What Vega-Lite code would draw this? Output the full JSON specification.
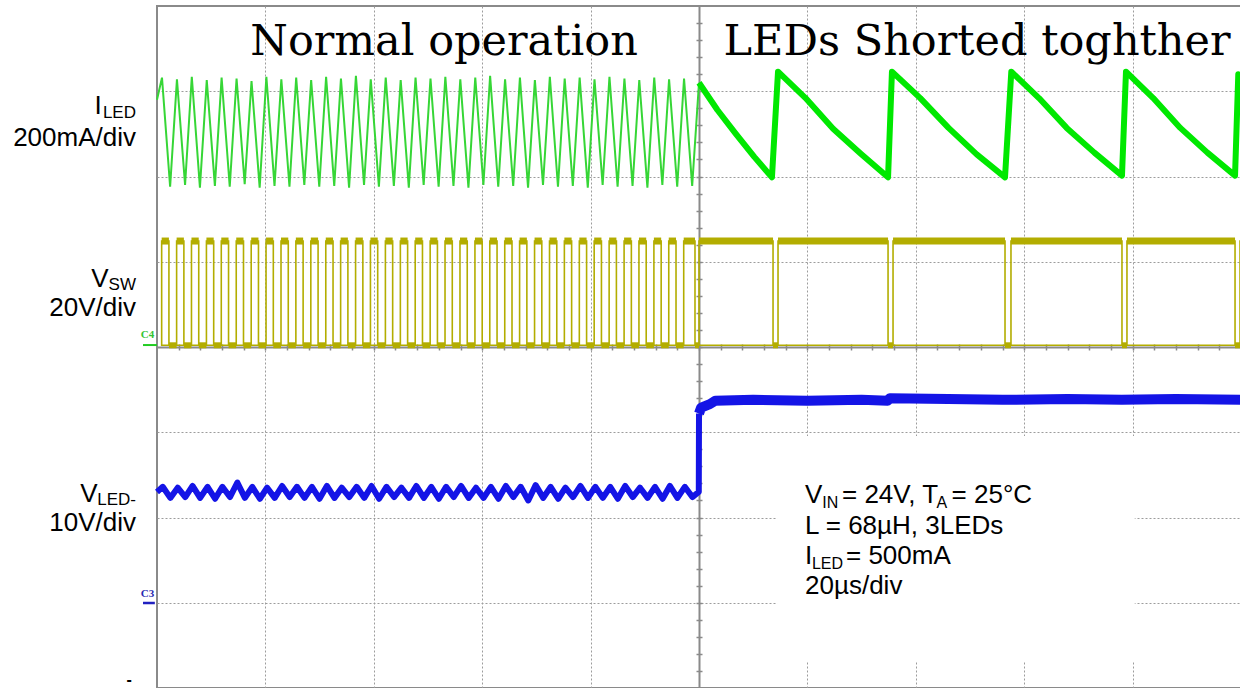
{
  "$schema": "https://vega.github.io/schema/vega-lite/v6.json",
  "width": 1084,
  "height": 682,
  "autosize": {"type": "none"},
  "padding": {"left": 157, "top": 6, "right": 0, "bottom": 0},
  "background": "white",
  "config": {"view": {"stroke": "#8a8a8a", "strokeWidth": 2}},
  "datasets": {
    "vsw": [
      {"a":0.043,"b":0.11,"c":0.181},{"a":0.181,"b":0.248,"c":0.318},{"a":0.318,"b":0.385,"c":0.456},
      {"a":0.456,"b":0.523,"c":0.593},{"a":0.593,"b":0.66,"c":0.731},{"a":0.731,"b":0.798,"c":0.869},
      {"a":0.869,"b":0.936,"c":1.006},{"a":1.006,"b":1.073,"c":1.144},{"a":1.144,"b":1.211,"c":1.281},
      {"a":1.281,"b":1.348,"c":1.419},{"a":1.419,"b":1.486,"c":1.557},{"a":1.557,"b":1.624,"c":1.694},
      {"a":1.694,"b":1.761,"c":1.832},{"a":1.832,"b":1.899,"c":1.969},{"a":1.969,"b":2.036,"c":2.107},
      {"a":2.107,"b":2.174,"c":2.245},{"a":2.245,"b":2.312,"c":2.382},{"a":2.382,"b":2.449,"c":2.52},
      {"a":2.52,"b":2.587,"c":2.657},{"a":2.657,"b":2.724,"c":2.795},{"a":2.795,"b":2.862,"c":2.933},
      {"a":2.933,"b":3.0,"c":3.07},{"a":3.07,"b":3.137,"c":3.208},{"a":3.208,"b":3.275,"c":3.345},
      {"a":3.345,"b":3.412,"c":3.483},{"a":3.483,"b":3.55,"c":3.621},{"a":3.621,"b":3.688,"c":3.758},
      {"a":3.758,"b":3.825,"c":3.896},{"a":3.896,"b":3.963,"c":4.033},{"a":4.033,"b":4.1,"c":4.171},
      {"a":4.171,"b":4.238,"c":4.309},{"a":4.309,"b":4.376,"c":4.446},{"a":4.446,"b":4.513,"c":4.584},
      {"a":4.584,"b":4.651,"c":4.721},{"a":4.721,"b":4.788,"c":4.859},{"a":4.859,"b":4.963,"c":5.0},
      {"a":5.0,"b":5.683,"c":5.729},{"a":5.729,"b":6.744,"c":6.79},{"a":6.79,"b":7.823,"c":7.878},
      {"a":7.878,"b":8.902,"c":8.948},{"a":8.948,"b":9.945,"c":9.991},{"a":9.991,"b":10.0,"c":10.0}
    ],
    "iled_l": [
      {"t":0.0,"v":6.9},
      {"t":0.046,"v":7.16},{"t":0.121,"v":5.88},{"t":0.184,"v":7.14},{"t":0.259,"v":5.9},
      {"t":0.321,"v":7.17},{"t":0.396,"v":5.87},{"t":0.459,"v":7.13},{"t":0.534,"v":5.89},
      {"t":0.596,"v":7.16},{"t":0.671,"v":5.88},{"t":0.734,"v":7.15},{"t":0.809,"v":5.91},
      {"t":0.872,"v":7.12},{"t":0.947,"v":5.87},{"t":1.009,"v":7.17},{"t":1.084,"v":5.89},
      {"t":1.147,"v":7.14},{"t":1.222,"v":5.88},{"t":1.284,"v":7.16},{"t":1.359,"v":5.9},
      {"t":1.422,"v":7.13},{"t":1.497,"v":5.88},{"t":1.56,"v":7.17},{"t":1.635,"v":5.89},
      {"t":1.697,"v":7.15},{"t":1.772,"v":5.87},{"t":1.835,"v":7.18},{"t":1.91,"v":5.9},
      {"t":1.972,"v":7.14},{"t":2.047,"v":5.88},{"t":2.11,"v":7.16},{"t":2.185,"v":5.89},
      {"t":2.248,"v":7.13},{"t":2.323,"v":5.87},{"t":2.385,"v":7.16},{"t":2.46,"v":5.9},
      {"t":2.523,"v":7.15},{"t":2.598,"v":5.88},{"t":2.66,"v":7.17},{"t":2.735,"v":5.89},
      {"t":2.798,"v":7.14},{"t":2.873,"v":5.87},{"t":2.936,"v":7.16},{"t":3.011,"v":5.9},
      {"t":3.073,"v":7.18},{"t":3.148,"v":5.88},{"t":3.211,"v":7.14},{"t":3.286,"v":5.89},
      {"t":3.348,"v":7.16},{"t":3.423,"v":5.87},{"t":3.486,"v":7.13},{"t":3.561,"v":5.9},
      {"t":3.624,"v":7.17},{"t":3.699,"v":5.88},{"t":3.761,"v":7.15},{"t":3.836,"v":5.89},
      {"t":3.899,"v":7.16},{"t":3.974,"v":5.87},{"t":4.036,"v":7.14},{"t":4.111,"v":5.9},
      {"t":4.174,"v":7.17},{"t":4.249,"v":5.88},{"t":4.312,"v":7.15},{"t":4.387,"v":5.89},
      {"t":4.449,"v":7.13},{"t":4.524,"v":5.87},{"t":4.587,"v":7.16},{"t":4.662,"v":5.9},
      {"t":4.724,"v":7.14},{"t":4.799,"v":5.88},{"t":4.862,"v":7.15},{"t":4.937,"v":5.89},
      {"t":5.0,"v":7.1}
    ],
    "iled_r": [
      {"t":5.0,"v":7.1},{"t":5.17,"v":6.78},{"t":5.34,"v":6.5},{"t":5.51,"v":6.23},{"t":5.673,"v":5.99},
      {"t":5.729,"v":7.23},{"t":5.983,"v":6.92},{"t":6.237,"v":6.56},{"t":6.49,"v":6.27},{"t":6.744,"v":5.99},
      {"t":6.78,"v":7.23},{"t":7.041,"v":6.92},{"t":7.302,"v":6.57},{"t":7.562,"v":6.26},{"t":7.823,"v":5.99},
      {"t":7.881,"v":7.23},{"t":8.136,"v":6.92},{"t":8.392,"v":6.57},{"t":8.647,"v":6.28},{"t":8.902,"v":6.01},
      {"t":8.939,"v":7.23},{"t":9.19,"v":6.92},{"t":9.44,"v":6.57},{"t":9.69,"v":6.28},{"t":9.945,"v":6.01},
      {"t":9.975,"v":7.2},{"t":10.0,"v":7.17}
    ],
    "vled_l": [
      {"t":0.0,"v":2.3},
      {"t":0.053,"v":2.36},{"t":0.123,"v":2.23},{"t":0.191,"v":2.35},{"t":0.261,"v":2.24},
      {"t":0.328,"v":2.37},{"t":0.398,"v":2.23},{"t":0.466,"v":2.36},{"t":0.536,"v":2.22},
      {"t":0.603,"v":2.36},{"t":0.673,"v":2.24},{"t":0.741,"v":2.41},{"t":0.811,"v":2.23},
      {"t":0.879,"v":2.36},{"t":0.949,"v":2.22},{"t":1.016,"v":2.35},{"t":1.086,"v":2.23},
      {"t":1.154,"v":2.37},{"t":1.224,"v":2.24},{"t":1.291,"v":2.36},{"t":1.361,"v":2.23},
      {"t":1.429,"v":2.36},{"t":1.499,"v":2.22},{"t":1.567,"v":2.37},{"t":1.637,"v":2.23},
      {"t":1.704,"v":2.35},{"t":1.774,"v":2.24},{"t":1.842,"v":2.36},{"t":1.912,"v":2.23},
      {"t":1.979,"v":2.37},{"t":2.049,"v":2.22},{"t":2.117,"v":2.36},{"t":2.187,"v":2.24},
      {"t":2.255,"v":2.35},{"t":2.325,"v":2.23},{"t":2.392,"v":2.37},{"t":2.462,"v":2.23},
      {"t":2.53,"v":2.36},{"t":2.6,"v":2.22},{"t":2.667,"v":2.36},{"t":2.737,"v":2.24},
      {"t":2.805,"v":2.37},{"t":2.875,"v":2.23},{"t":2.943,"v":2.35},{"t":3.013,"v":2.23},
      {"t":3.08,"v":2.36},{"t":3.15,"v":2.22},{"t":3.218,"v":2.37},{"t":3.288,"v":2.24},
      {"t":3.355,"v":2.36},{"t":3.425,"v":2.2},{"t":3.493,"v":2.38},{"t":3.563,"v":2.23},
      {"t":3.631,"v":2.36},{"t":3.701,"v":2.22},{"t":3.768,"v":2.35},{"t":3.838,"v":2.24},
      {"t":3.906,"v":2.37},{"t":3.976,"v":2.23},{"t":4.043,"v":2.36},{"t":4.113,"v":2.23},
      {"t":4.181,"v":2.36},{"t":4.251,"v":2.22},{"t":4.319,"v":2.37},{"t":4.389,"v":2.24},
      {"t":4.456,"v":2.35},{"t":4.526,"v":2.23},{"t":4.594,"v":2.36},{"t":4.664,"v":2.22},
      {"t":4.731,"v":2.37},{"t":4.801,"v":2.23},{"t":4.869,"v":2.36},{"t":4.939,"v":2.24},
      {"t":4.998,"v":2.3},{"t":5.0,"v":3.22}
    ],
    "vled_r": [
      {"t":5.0,"v":3.22},{"t":5.02,"v":3.29},{"t":5.06,"v":3.31},{"t":5.1,"v":3.33},{"t":5.15,"v":3.37},
      {"t":5.5,"v":3.38},{"t":6.0,"v":3.37},{"t":6.5,"v":3.38},{"t":6.74,"v":3.37},{"t":6.76,"v":3.4},
      {"t":7.3,"v":3.39},{"t":7.8,"v":3.38},{"t":8.4,"v":3.39},{"t":8.9,"v":3.38},{"t":9.4,"v":3.39},
      {"t":10.0,"v":3.38}
    ]
  },
  "resolve": {"axis": {"x": "independent", "y": "independent"}},
  "layer": [
    {
      "data": {"values": [{}]},
      "mark": {"type": "rect", "fill": "white", "strokeWidth": 0},
      "encoding": {
        "x": {"datum": 5.72, "type": "quantitative", "scale": {"domain": [0, 10], "nice": false, "zero": false},
          "axis": {"orient": "bottom", "offset": -341, "title": null, "labels": false,
            "values": [0.2,0.4,0.6,0.8,1,1.2,1.4,1.6,1.8,2,2.2,2.4,2.6,2.8,3,3.2,3.4,3.6,3.8,4,4.2,4.4,4.6,4.8,5,5.2,5.4,5.6,5.8,6,6.2,6.4,6.6,6.8,7,7.2,7.4,7.6,7.8,8,8.2,8.4,8.6,8.8,9,9.2,9.4,9.6,9.8],
            "domain": true, "domainColor": "#8a8a8a", "domainWidth": 2,
            "ticks": true, "tickColor": "#8a8a8a", "tickSize": 3, "tickWidth": 1.5,
            "grid": true, "gridColor": "#9c9c9c", "gridDash": [2, 2], "gridWidth": 1,
            "gridOpacity": {"condition": {"test": "abs(datum.value - round(datum.value)) < 0.01 && abs(datum.value - 5) > 0.01", "value": 1}, "value": 0}}},
        "x2": {"datum": 9.02},
        "y": {"datum": 0.305, "type": "quantitative", "scale": {"domain": [0, 8], "nice": false, "zero": false},
          "axis": {"orient": "left", "offset": -542, "title": null, "labels": false,
            "values": [0.2,0.4,0.6,0.8,1,1.2,1.4,1.6,1.8,2,2.2,2.4,2.6,2.8,3,3.2,3.4,3.6,3.8,4,4.2,4.4,4.6,4.8,5,5.2,5.4,5.6,5.8,6,6.2,6.4,6.6,6.8,7,7.2,7.4,7.6,7.8],
            "domain": true, "domainColor": "#8a8a8a", "domainWidth": 2,
            "ticks": true, "tickColor": "#8a8a8a", "tickSize": 3, "tickWidth": 1.5,
            "grid": true, "gridColor": "#9c9c9c", "gridDash": [2, 2], "gridWidth": 1,
            "gridOpacity": {"condition": {"test": "abs(datum.value - round(datum.value)) < 0.01 && abs(datum.value - 4) > 0.01", "value": 1}, "value": 0}}},
        "y2": {"datum": 2.956}
      }
    },
    {
      "data": {"name": "vsw"},
      "mark": {"type": "rect", "filled": false, "stroke": "#b3ad00", "strokeWidth": 1.6},
      "encoding": {
        "x": {"field": "a", "type": "quantitative", "scale": {"domain": [0, 10], "nice": false, "zero": false},
          "axis": {"orient": "top", "offset": -341, "title": null, "labels": false, "domain": false, "grid": false,
            "values": [0.2,0.4,0.6,0.8,1,1.2,1.4,1.6,1.8,2,2.2,2.4,2.6,2.8,3,3.2,3.4,3.6,3.8,4,4.2,4.4,4.6,4.8,5,5.2,5.4,5.6,5.8,6,6.2,6.4,6.6,6.8,7,7.2,7.4,7.6,7.8,8,8.2,8.4,8.6,8.8,9,9.2,9.4,9.6,9.8],
            "ticks": true, "tickColor": "#8a8a8a", "tickSize": 3, "tickWidth": 1.5}},
        "x2": {"field": "b"},
        "y": {"datum": 4.02, "type": "quantitative", "scale": {"domain": [0, 8], "nice": false, "zero": false},
          "axis": {"orient": "right", "offset": -542, "title": null, "labels": false, "domain": false, "grid": false,
            "values": [0.2,0.4,0.6,0.8,1,1.2,1.4,1.6,1.8,2,2.2,2.4,2.6,2.8,3,3.2,3.4,3.6,3.8,4,4.2,4.4,4.6,4.8,5,5.2,5.4,5.6,5.8,6,6.2,6.4,6.6,6.8,7,7.2,7.4,7.6,7.8],
            "ticks": true, "tickColor": "#8a8a8a", "tickSize": 3, "tickWidth": 1.5}},
        "y2": {"datum": 5.243}
      }
    },
    {
      "data": {"name": "vsw"},
      "mark": {"type": "rule", "color": "#b3ad00", "strokeWidth": 7},
      "encoding": {
        "x": {"field": "a", "type": "quantitative", "scale": {"domain": [0, 10], "nice": false, "zero": false}, "axis": null},
        "x2": {"field": "b"},
        "y": {"datum": 5.243, "type": "quantitative", "scale": {"domain": [0, 8], "nice": false, "zero": false}, "axis": null}
      }
    },
    {
      "data": {"name": "vsw"},
      "mark": {"type": "rule", "color": "#b3ad00", "strokeWidth": 6},
      "encoding": {
        "x": {"field": "b", "type": "quantitative", "scale": {"domain": [0, 10], "nice": false, "zero": false}, "axis": null},
        "x2": {"field": "c"},
        "y": {"datum": 4.02, "type": "quantitative", "scale": {"domain": [0, 8], "nice": false, "zero": false}, "axis": null}
      }
    },
    {
      "data": {"name": "iled_l"},
      "mark": {"type": "line", "color": "#36d636", "strokeWidth": 2},
      "encoding": {
        "x": {"field": "t", "type": "quantitative", "scale": {"domain": [0, 10], "nice": false, "zero": false}, "axis": null},
        "y": {"field": "v", "type": "quantitative", "scale": {"domain": [0, 8], "nice": false, "zero": false}, "axis": null}
      }
    },
    {
      "data": {"name": "iled_r"},
      "mark": {"type": "line", "color": "#00e800", "strokeWidth": 6, "strokeJoin": "round"},
      "encoding": {
        "x": {"field": "t", "type": "quantitative", "scale": {"domain": [0, 10], "nice": false, "zero": false}, "axis": null},
        "y": {"field": "v", "type": "quantitative", "scale": {"domain": [0, 8], "nice": false, "zero": false}, "axis": null}
      }
    },
    {
      "data": {"name": "vled_l"},
      "mark": {"type": "line", "color": "#1414e6", "strokeWidth": 6, "strokeJoin": "round"},
      "encoding": {
        "x": {"field": "t", "type": "quantitative", "scale": {"domain": [0, 10], "nice": false, "zero": false}, "axis": null},
        "y": {"field": "v", "type": "quantitative", "scale": {"domain": [0, 8], "nice": false, "zero": false}, "axis": null}
      }
    },
    {
      "data": {"name": "vled_r"},
      "mark": {"type": "line", "color": "#1414e6", "strokeWidth": 10, "strokeJoin": "round"},
      "encoding": {
        "x": {"field": "t", "type": "quantitative", "scale": {"domain": [0, 10], "nice": false, "zero": false}, "axis": null},
        "y": {"field": "v", "type": "quantitative", "scale": {"domain": [0, 8], "nice": false, "zero": false}, "axis": null}
      }
    },
    {
      "data": {"values": [
        {"label": "Normal operation", "t": 2.648, "v": 7.425},
        {"label": "LEDs Shorted toghther", "t": 7.565, "v": 7.425}
      ]},
      "mark": {"type": "text", "font": "DejaVu Serif", "fontSize": 43, "color": "#000000", "align": "center", "baseline": "alphabetic"},
      "encoding": {
        "x": {"field": "t", "type": "quantitative", "scale": {"domain": [0, 10], "nice": false, "zero": false}, "axis": null},
        "y": {"field": "v", "type": "quantitative", "scale": {"domain": [0, 8], "nice": false, "zero": false}, "axis": null},
        "text": {"field": "label"}
      }
    },
    {
      "data": {"values": [
        {"label": "200mA/div", "t": -0.194, "v": 6.358},
        {"label": "20V/div", "t": -0.194, "v": 4.364},
        {"label": "10V/div", "t": -0.194, "v": 1.842},
        {"label": "I", "t": -0.51, "v": 6.73},
        {"label": "V", "t": -0.447, "v": 4.704},
        {"label": "V", "t": -0.549, "v": 2.182}
      ]},
      "mark": {"type": "text", "font": "Liberation Sans", "fontSize": 26, "color": "#000000", "align": "right", "baseline": "alphabetic"},
      "encoding": {
        "x": {"field": "t", "type": "quantitative", "scale": {"domain": [0, 10], "nice": false, "zero": false}, "axis": null},
        "y": {"field": "v", "type": "quantitative", "scale": {"domain": [0, 8], "nice": false, "zero": false}, "axis": null},
        "text": {"field": "label"}
      }
    },
    {
      "data": {"values": [
        {"label": "LED", "t": -0.194, "v": 6.685},
        {"label": "SW", "t": -0.194, "v": 4.669},
        {"label": "LED-", "t": -0.194, "v": 2.147}
      ]},
      "mark": {"type": "text", "font": "Liberation Sans", "fontSize": 17, "color": "#000000", "align": "right", "baseline": "alphabetic"},
      "encoding": {
        "x": {"field": "t", "type": "quantitative", "scale": {"domain": [0, 10], "nice": false, "zero": false}, "axis": null},
        "y": {"field": "v", "type": "quantitative", "scale": {"domain": [0, 8], "nice": false, "zero": false}, "axis": null},
        "text": {"field": "label"}
      }
    },
    {
      "data": {"values": [
        {"label": "V", "t": 5.978, "v": 2.17},
        {"label": "= 24V, T", "t": 6.319, "v": 2.17},
        {"label": "= 25°C", "t": 7.33, "v": 2.17},
        {"label": "L = 68µH, 3LEDs", "t": 5.978, "v": 1.806},
        {"label": "I", "t": 5.978, "v": 1.455},
        {"label": "= 500mA", "t": 6.356, "v": 1.455},
        {"label": "20µs/div", "t": 5.978, "v": 1.103}
      ]},
      "mark": {"type": "text", "font": "Liberation Sans", "fontSize": 26, "color": "#000000", "align": "left", "baseline": "alphabetic"},
      "encoding": {
        "x": {"field": "t", "type": "quantitative", "scale": {"domain": [0, 10], "nice": false, "zero": false}, "axis": null},
        "y": {"field": "v", "type": "quantitative", "scale": {"domain": [0, 8], "nice": false, "zero": false}, "axis": null},
        "text": {"field": "label"}
      }
    },
    {
      "data": {"values": [
        {"label": "IN", "t": 6.137, "v": 2.111},
        {"label": "A", "t": 7.19, "v": 2.111},
        {"label": "LED", "t": 6.042, "v": 1.396}
      ]},
      "mark": {"type": "text", "font": "Liberation Sans", "fontSize": 16, "color": "#000000", "align": "left", "baseline": "alphabetic"},
      "encoding": {
        "x": {"field": "t", "type": "quantitative", "scale": {"domain": [0, 10], "nice": false, "zero": false}, "axis": null},
        "y": {"field": "v", "type": "quantitative", "scale": {"domain": [0, 8], "nice": false, "zero": false}, "axis": null},
        "text": {"field": "label"}
      }
    },
    {
      "data": {"values": [{}]},
      "mark": {"type": "text", "text": "C4", "font": "Liberation Serif", "fontWeight": "bold", "fontSize": 11, "color": "#33c433", "align": "center", "baseline": "alphabetic"},
      "encoding": {
        "x": {"datum": -0.088, "type": "quantitative", "scale": {"domain": [0, 10], "nice": false, "zero": false}, "axis": null},
        "y": {"datum": 4.106, "type": "quantitative", "scale": {"domain": [0, 8], "nice": false, "zero": false}, "axis": null}
      }
    },
    {
      "data": {"values": [{}]},
      "mark": {"type": "rule", "color": "#22cc22", "strokeWidth": 2},
      "encoding": {
        "x": {"datum": -0.129, "type": "quantitative", "scale": {"domain": [0, 10], "nice": false, "zero": false}, "axis": null},
        "x2": {"datum": 0},
        "y": {"datum": 4.023, "type": "quantitative", "scale": {"domain": [0, 8], "nice": false, "zero": false}, "axis": null}
      }
    },
    {
      "data": {"values": [{}]},
      "mark": {"type": "text", "text": "C3", "font": "Liberation Serif", "fontWeight": "bold", "fontSize": 11, "color": "#2a2ab0", "align": "center", "baseline": "alphabetic"},
      "encoding": {
        "x": {"datum": -0.088, "type": "quantitative", "scale": {"domain": [0, 10], "nice": false, "zero": false}, "axis": null},
        "y": {"datum": 1.067, "type": "quantitative", "scale": {"domain": [0, 8], "nice": false, "zero": false}, "axis": null}
      }
    },
    {
      "data": {"values": [{}]},
      "mark": {"type": "rule", "color": "#2020c0", "strokeWidth": 2.5},
      "encoding": {
        "x": {"datum": -0.129, "type": "quantitative", "scale": {"domain": [0, 10], "nice": false, "zero": false}, "axis": null},
        "x2": {"datum": -0.02},
        "y": {"datum": 0.997, "type": "quantitative", "scale": {"domain": [0, 8], "nice": false, "zero": false}, "axis": null}
      }
    },
    {
      "data": {"values": [{}]},
      "mark": {"type": "text", "text": "-", "font": "Liberation Sans", "fontWeight": "bold", "fontSize": 16, "color": "#000000", "align": "center", "baseline": "alphabetic"},
      "encoding": {
        "x": {"datum": -0.258, "type": "quantitative", "scale": {"domain": [0, 10], "nice": false, "zero": false}, "axis": null},
        "y": {"datum": 0.03, "type": "quantitative", "scale": {"domain": [0, 8], "nice": false, "zero": false}, "axis": null}
      }
    }
  ]
}
